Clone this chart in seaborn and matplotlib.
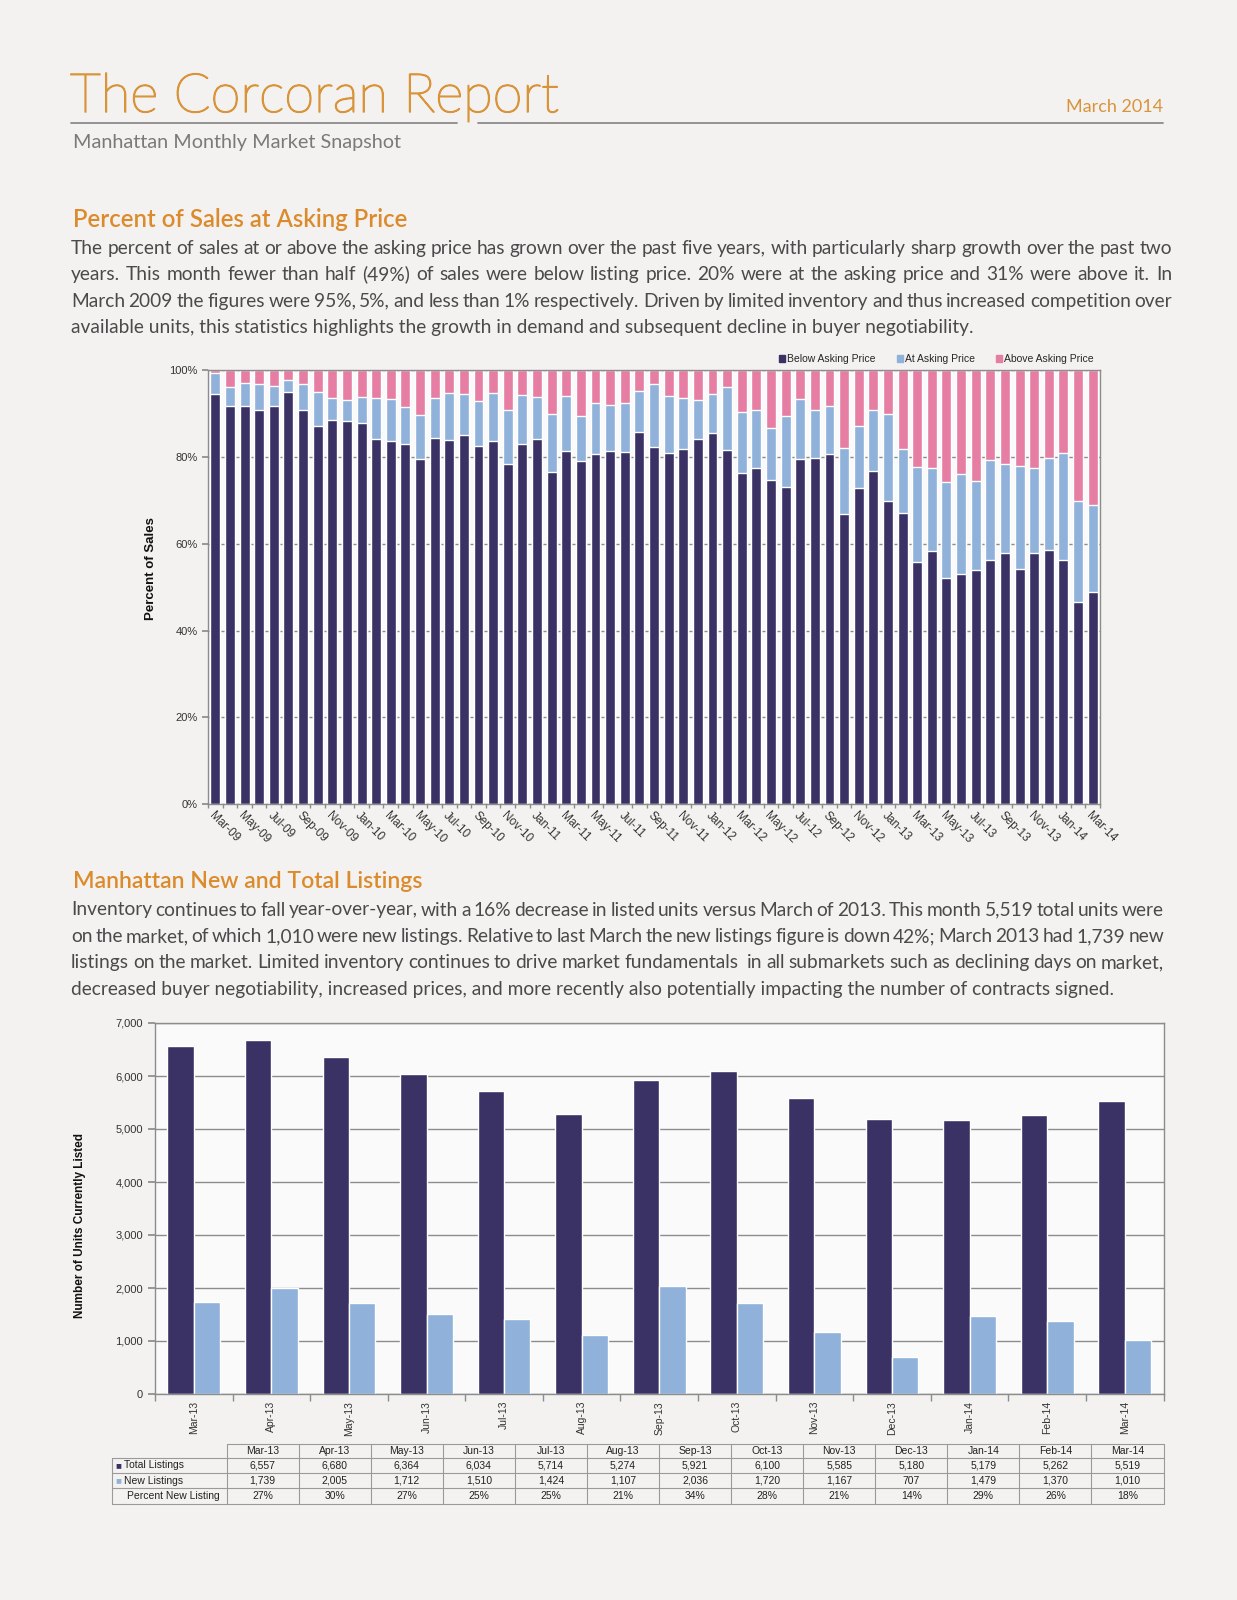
import numpy as np
import pandas as pd
import matplotlib
matplotlib.use('Agg')
import matplotlib.pyplot as plt
import matplotlib.patheffects as pe
from matplotlib.patches import Patch
import seaborn as sns

sns.set_theme(style='white')
plt.rcParams['font.family'] = ['Liberation Sans', 'DejaVu Sans']

W, H = 1237, 1600
BG = '#f3f2f0'
NAVY = '#3a3164'
LIGHT = '#8fb1da'
PINK = '#e67ea4'
ORANGE = '#d9943a'
HEAD = '#dc8b2c'
TXT = '#4a4a4a'
GRID = '#8c8c8c'

# --- Percent of sales at asking price (Mar-09 .. Mar-14) ---
months_pct = list(pd.date_range('2009-03-01', '2014-03-01', freq='MS').strftime('%b-%y'))
below_pct = [94.6, 91.8, 91.8, 90.9, 91.8, 95.1, 91.0, 87.3, 88.5, 88.4,
             88.0, 84.3, 83.8, 83.0, 79.5, 84.5, 84.0, 85.2, 82.5, 83.8,
             78.5, 83.1, 84.2, 76.5, 81.5, 79.2, 80.7, 81.4, 81.2, 85.9,
             82.4, 80.9, 81.8, 84.3, 85.5, 81.7, 76.4, 77.4, 74.8, 73.1,
             79.7, 79.8, 80.7, 66.9, 72.8, 76.9, 69.8, 67.1, 55.9, 58.4,
             52.1, 53.0, 54.0, 56.4, 57.9, 54.3, 57.8, 58.5, 56.2, 46.7, 49.0]
at_pct = [4.9, 4.5, 5.4, 6.0, 4.7, 2.8, 5.9, 7.7, 5.1, 4.8,
          6.0, 9.3, 9.6, 8.5, 10.3, 9.2, 10.9, 9.3, 10.5, 11.1,
          12.3, 11.2, 9.7, 13.5, 12.7, 10.3, 11.8, 10.6, 11.3, 9.3,
          14.4, 13.2, 11.8, 9.0, 9.1, 14.5, 14.0, 13.6, 11.9, 16.4,
          13.7, 11.0, 11.1, 15.3, 14.4, 13.9, 20.2, 14.9, 21.9, 19.1,
          22.1, 23.2, 20.6, 22.9, 20.6, 23.7, 19.8, 21.4, 24.8, 23.2, 20.0]
above_pct = [100 - b - a for b, a in zip(below_pct, at_pct)]

# --- New and total listings ---
months_lst = ['Mar-13', 'Apr-13', 'May-13', 'Jun-13', 'Jul-13', 'Aug-13', 'Sep-13',
              'Oct-13', 'Nov-13', 'Dec-13', 'Jan-14', 'Feb-14', 'Mar-14']
total_listings = [6557, 6680, 6364, 6034, 5714, 5274, 5921, 6100, 5585, 5180, 5179, 5262, 5519]
new_listings = [1739, 2005, 1712, 1510, 1424, 1107, 2036, 1720, 1167, 707, 1479, 1370, 1010]
pct_new = ['27%', '30%', '27%', '25%', '25%', '21%', '34%', '28%', '21%', '14%', '29%', '26%', '18%']

para1 = [
    "The percent of sales at or above the asking price has grown over the past five years, with particularly sharp growth over the past two",
    "years. This month fewer than half (49%) of sales were below listing price. 20% were at the asking price and 31% were above it. In",
    "March 2009 the figures were 95%, 5%, and less than 1% respectively. Driven by limited inventory and thus increased competition over",
    "available units, this statistics highlights the growth in demand and subsequent decline in buyer negotiability.",
]
para2 = [
    "Inventory continues to fall year-over-year, with a 16% decrease in listed units versus March of 2013. This month 5,519 total units were",
    "on the market, of which 1,010 were new listings. Relative to last March the new listings figure is down 42%; March 2013 had 1,739 new",
    "listings on the market. Limited inventory continues to drive market fundamentals  in all submarkets such as declining days on market,",
    "decreased buyer negotiability, increased prices, and more recently also potentially impacting the number of contracts signed.",
]

fig = plt.figure(figsize=(W / 100, H / 100), dpi=100, facecolor=BG)

# overlay in pixel coordinates for page text / table
ov = fig.add_axes([0, 0, 1, 1])
ov.set_xlim(0, W)
ov.set_ylim(H, 0)
ov.axis('off')
ov.patch.set_alpha(0)

# header
ov.text(70, 112, 'The Corcoran Report', fontsize=39, color=ORANGE, family='Lato',
        weight='light', va='baseline',
        path_effects=[pe.withStroke(linewidth=1.1, foreground=ORANGE)])
ov.plot([71, 457], [122.5, 122.5], color='#8c8c8c', lw=1.3)
ov.plot([478, 1163], [122.5, 122.5], color='#8c8c8c', lw=1.3)
ov.text(1163, 112, 'March 2014', fontsize=13, color=ORANGE, family='Lato',
        ha='right', va='baseline')
ov.text(73, 148, 'Manhattan Monthly Market Snapshot', fontsize=14.3, color='#7a7a7a',
        family='Lato', va='baseline')


def paragraph(lines, x0, x1, y0, step, size):
    r = fig.canvas.get_renderer()
    kw = dict(fontsize=size, color=TXT, family='Lato', va='baseline')
    for k, line in enumerate(lines):
        y = y0 + k * step
        if k == len(lines) - 1:
            ov.text(x0, y, line, **kw)
            continue
        words = line.split(' ')
        arts = [ov.text(0, y, w, **kw) for w in words]
        widths = [a.get_window_extent(r).width for a in arts]
        gap = (x1 - x0 - sum(widths)) / (len(words) - 1)
        x = x0
        for a, w in zip(arts, widths):
            a.set_x(x)
            x += w + gap


ov.text(73, 227, 'Percent of Sales at Asking Price', fontsize=17.2, color=HEAD,
        family='Lato', weight='semibold', va='baseline')
paragraph(para1, 71, 1172, 254, 26.4, 13.8)

ov.text(73, 888, 'Manhattan New and Total Listings', fontsize=16.6, color=HEAD,
        family='Lato', weight='semibold', va='baseline')
paragraph(para2, 71, 1164, 915.5, 26.4, 13.8)

# --- top chart: stacked percent bars ---
ax1 = fig.add_axes([208 / W, 1 - 804 / H, (1100 - 208) / W, (804 - 370.5) / H])
ax1.set_facecolor('#fafafa')
stack_at = np.add(below_pct, at_pct)
stack_all = np.add(stack_at, above_pct)
sns.barplot(x=months_pct, y=stack_all, color=PINK, width=0.68, saturation=1, ax=ax1)
sns.barplot(x=months_pct, y=stack_at, color=LIGHT, width=0.68, saturation=1, ax=ax1)
sns.barplot(x=months_pct, y=below_pct, color=NAVY, width=0.68, saturation=1, ax=ax1)
ax1.set_xlim(-0.5, len(months_pct) - 0.5)
ax1.set_ylim(0, 100)
ax1.set_yticks(range(0, 101, 20))
ax1.set_yticklabels([f'{v}%' for v in range(0, 101, 20)], fontsize=8, color='#333333')
ax1.yaxis.grid(True, color=GRID, lw=1)
ax1.set_axisbelow(True)
ax1.set_xticks(range(0, len(months_pct), 2))
ax1.set_xticklabels(months_pct[::2], rotation=-45, ha='left', rotation_mode='anchor',
                    fontsize=8.5, color='#333333')
ax1.set_xticks(np.arange(-0.5, len(months_pct), 1), minor=True)
ax1.tick_params(axis='x', which='major', length=0, pad=4)
ax1.tick_params(axis='x', which='minor', length=3, color=GRID, bottom=True)
ax1.tick_params(axis='y', length=4, color=GRID, left=True)
ax1.set_xlabel('')
ax1.set_ylabel('')
for s in ax1.spines.values():
    s.set_color(GRID)
    s.set_linewidth(1)
ax1.legend(handles=[Patch(color=NAVY, label='Below Asking Price'),
                    Patch(color=LIGHT, label='At Asking Price'),
                    Patch(color=PINK, label='Above Asking Price')],
           loc='lower right', bbox_to_anchor=(1.0, 1.0), ncol=3, frameon=False,
           fontsize=7.5, handlelength=0.6, handleheight=0.6, handletextpad=0.2,
           columnspacing=2.0, borderaxespad=0.2)
ov.text(151, 569, 'Percent of Sales', rotation=90, fontsize=9.5, weight='bold',
        ha='center', va='center', color='#111111')

# --- bottom chart: listings ---
ax2 = fig.add_axes([155 / W, 1 - 1394 / H, (1163.5 - 155) / W, (1394 - 1023) / H])
ax2.set_facecolor('#fafafa')
df = pd.DataFrame({
    'month': months_lst * 2,
    'series': ['Total Listings'] * len(months_lst) + ['New Listings'] * len(months_lst),
    'value': total_listings + new_listings,
})
sns.barplot(data=df, x='month', y='value', hue='series', palette=[NAVY, LIGHT],
            width=0.68, saturation=1, ax=ax2, legend=False)
ax2.set_xlim(-0.5, len(months_lst) - 0.5)
ax2.set_ylim(0, 7000)
ax2.set_yticks(range(0, 7001, 1000))
ax2.set_yticklabels([f'{v:,}' for v in range(0, 7001, 1000)], fontsize=8, color='#333333')
ax2.yaxis.grid(True, color=GRID, lw=1)
ax2.set_axisbelow(True)
ax2.set_xticks(range(len(months_lst)))
ax2.set_xticklabels(months_lst, rotation=90, fontsize=7.5, color='#333333')
ax2.set_xticks(np.arange(-0.5, len(months_lst), 1), minor=True)
ax2.tick_params(axis='x', which='major', length=0, pad=5)
ax2.tick_params(axis='x', which='minor', length=5, color=GRID, bottom=True)
ax2.tick_params(axis='y', length=5, color=GRID, left=True)
ax2.set_xlabel('')
ax2.set_ylabel('')
for s in ax2.spines.values():
    s.set_color(GRID)
    s.set_linewidth(1)
ov.text(80, 1225, 'Number of Units Currently Listed', rotation=90, fontsize=8.5,
        weight='bold', ha='center', va='center', color='#111111')

# --- data table under the listings chart ---
rows_y = [1444, 1457.5, 1473, 1488.3, 1503.6]
col_x = np.linspace(226.6, 1163.5, len(months_lst) + 1)
lab_x = 112
tc = '#9a9a9a'
ov.plot([col_x[0], col_x[-1]], [rows_y[0]] * 2, color=tc, lw=0.8)
for y in rows_y[1:]:
    ov.plot([lab_x, col_x[-1]], [y, y], color=tc, lw=0.8)
for x in col_x:
    ov.plot([x, x], [rows_y[0], rows_y[-1]], color=tc, lw=0.8)
ov.plot([lab_x, lab_x], [rows_y[1], rows_y[-1]], color=tc, lw=0.8)
centers = (col_x[:-1] + col_x[1:]) / 2
row_mid = [(rows_y[i] + rows_y[i + 1]) / 2 for i in range(4)]
tkw = dict(fontsize=7.5, color='#222222', ha='center', va='center')
for c, m, t, n, p in zip(centers, months_lst, total_listings, new_listings, pct_new):
    ov.text(c, row_mid[0], m, **tkw)
    ov.text(c, row_mid[1], f'{t:,}', **tkw)
    ov.text(c, row_mid[2], f'{n:,}', **tkw)
    ov.text(c, row_mid[3], p, **tkw)
ov.text(115, row_mid[1], '\u25a0', color=NAVY, fontsize=7, va='center')
ov.text(124, row_mid[1], 'Total Listings', fontsize=7.5, color='#222222', va='center')
ov.text(115, row_mid[2], '\u25a0', color=LIGHT, fontsize=7, va='center')
ov.text(124, row_mid[2], 'New Listings', fontsize=7.5, color='#222222', va='center')
ov.text(127, row_mid[3], 'Percent New Listing', fontsize=7.5, color='#222222', va='center')

fig.savefig('out.png', dpi=100, facecolor=BG)
